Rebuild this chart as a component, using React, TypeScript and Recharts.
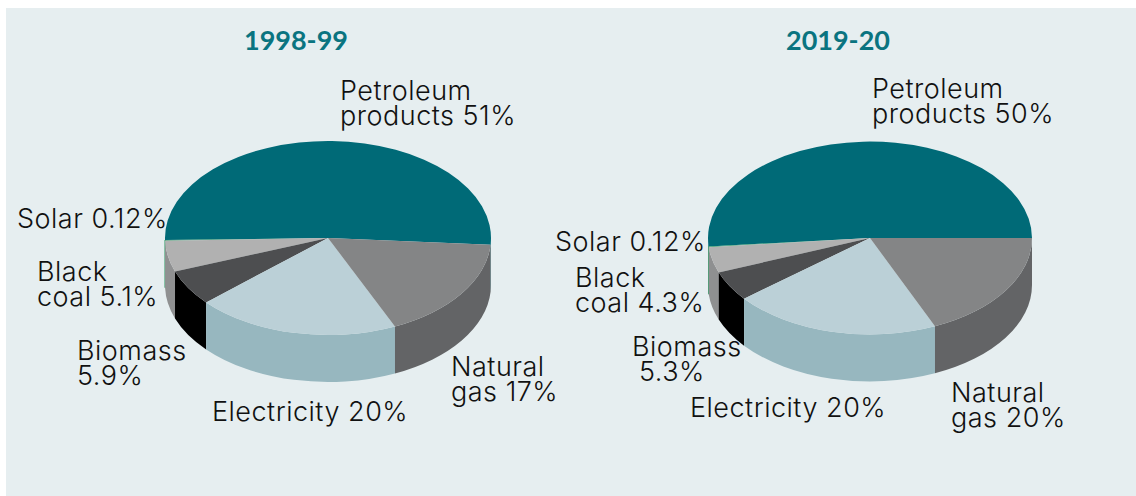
import React from 'react';
import { PieChart, Pie, Cell } from 'recharts';

const categories = ['Petroleum products', 'Solar', 'Black coal', 'Biomass', 'Electricity', 'Natural gas'];
const values1998 = [51, 0.12, 5.1, 5.9, 20, 17];
// slice sizes of the second pie as drawn in the picture, the printed labels differ a little
const values2019 = [51.3, 0.12, 4.3, 5.0, 20.7, 18.4];

const labels1998 = [['Petroleum', 'products 51%'], ['Solar 0.12%'], ['Black', 'coal 5.1%'], ['Biomass', '5.9%'], ['Electricity 20%'], ['Natural', 'gas 17%']];
const labels2019 = [['Petroleum', 'products 50%'], ['Solar 0.12%'], ['Black', 'coal 4.3%'], ['Biomass', '5.3%'], ['Electricity 20%'], ['Natural', 'gas 20%']];

const topColors = ['#006a77', '#3f9f6f', '#b1b1b1', '#4d4e50', '#bbd0d7', '#848586'];
const wallColors = ['#006a77', '#3f9f6f', '#8f9091', '#000000', '#97b7bf', '#636466'];

// [x, first baseline, second line x]
const spots1998 = [[340, 100, 340], [17, 228, 17], [37, 281, 37], [77, 360, 77], [212, 421, 212], [451, 376, 451]];
const spots2019 = [[872, 98, 872], [555, 251, 555], [575, 287, 575], [632, 356, 639], [690, 417, 690], [951, 402, 951]];

const SQUASH = 97 / 163;
const DEPTH = 47;
const RAD = Math.PI / 180;
const FONT = 'Inter, sans-serif';

const toTable = (values: number[]) => categories.map((name, i) => ({ name, value: values[i] }));

const EllipseSlice = (props: any) => {
  const { cx, cy, outerRadius, startAngle, endAngle, name, fill } = props;
  const rx = outerRadius;
  const ry = outerRadius * SQUASH;
  const pt = (a: number, dy = 0) => `${cx + rx * Math.cos(a * RAD)} ${cy - ry * Math.sin(a * RAD) + dy}`;
  const large = Math.abs(endAngle - startAngle) > 180 ? 1 : 0;
  const top = `M${cx} ${cy} L${pt(startAngle)} A${rx} ${ry} 0 ${large} 0 ${pt(endAngle)} Z`;

  // side wall only shows on the front half of the rim
  const walls: string[] = [];
  [[-180, 0], [180, 360]].forEach(([lo, hi]) => {
    const a = Math.max(startAngle, lo);
    const b = Math.min(endAngle, hi);
    if (b > a) {
      walls.push(
        `M${pt(a)} A${rx} ${ry} 0 0 0 ${pt(b)} L${pt(b, DEPTH)} A${rx} ${ry} 0 0 1 ${pt(a, DEPTH)} Z`
      );
    }
  });
  const wall = wallColors[categories.indexOf(name)];
  const thin = endAngle - startAngle < 1;

  return (
    <g>
      {walls.map((d, i) => (
        <path key={i} d={d} fill={wall} stroke={thin ? wall : 'none'} strokeWidth={thin ? 1.2 : 0} />
      ))}
      <path d={top} fill={fill} />
    </g>
  );
};

const makeLabel = (lines: string[][], spots: number[][]) => (props: any) => {
  const i = props.index;
  const [x, y, x2] = spots[i];
  return (
    <text key={i} fontFamily={FONT} fontWeight={300} fontSize={27} letterSpacing={0.5} fill="#111">
      {lines[i].map((line, j) => (
        <tspan key={j} x={j === 0 ? x : x2} y={y + j * 25}>{line}</tspan>
      ))}
    </text>
  );
};

export default function App() {
  return (
    <div style={{ position: 'absolute', left: 0, top: 0, width: 1136, height: 496, background: '#fff' }}>
      <div style={{ position: 'absolute', left: 6, top: 8, width: 1130, height: 488, background: '#e6eef0' }} />
      <div style={{ position: 'absolute', left: 0, top: 0 }}>
        <PieChart width={1136} height={496} margin={{ top: 0, right: 0, bottom: 0, left: 0 }}>
          <Pie
            data={toTable(values1998)}
            dataKey="value"
            nameKey="name"
            cx={328}
            cy={238}
            outerRadius={163}
            startAngle={-4}
            endAngle={356}
            stroke="none"
            shape={EllipseSlice}
            label={makeLabel(labels1998, spots1998)}
            labelLine={false}
            isAnimationActive={false}
          >
            {categories.map((c, i) => <Cell key={c} fill={topColors[i]} />)}
          </Pie>
          <Pie
            data={toTable(values2019)}
            dataKey="value"
            nameKey="name"
            cx={870}
            cy={238}
            outerRadius={162}
            startAngle={0}
            endAngle={360}
            stroke="none"
            shape={EllipseSlice}
            label={makeLabel(labels2019, spots2019)}
            labelLine={false}
            isAnimationActive={false}
          >
            {categories.map((c, i) => <Cell key={c} fill={topColors[i]} />)}
          </Pie>
          <text x={296} y={50} textAnchor="middle" fontFamily="Lato, sans-serif" fontWeight={700} fontSize={27} fill="#0a7480">1998-99</text>
          <text x={838} y={50} textAnchor="middle" fontFamily="Lato, sans-serif" fontWeight={700} fontSize={27} fill="#0a7480">2019-20</text>
        </PieChart>
      </div>
    </div>
  );
}
